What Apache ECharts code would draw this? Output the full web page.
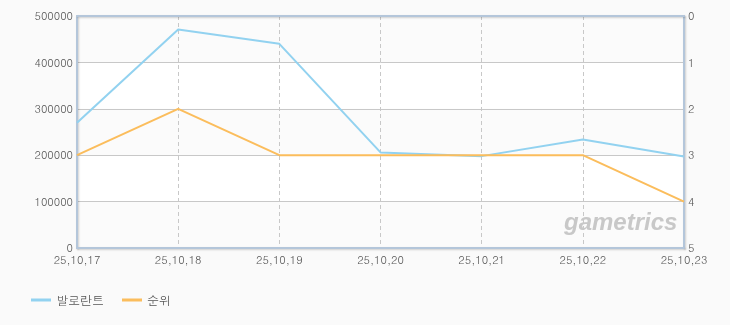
<!DOCTYPE html>
<html><head><meta charset="utf-8">
<script src="https://cdn.jsdelivr.net/npm/echarts@6/dist/echarts.min.js"></script>
<style>html,body{margin:0;padding:0;background:#fafafa;}#c{width:730px;height:325px;}</style>
</head><body><div id="c"></div>
<script>
const categories = ['25,10,17','25,10,18','25,10,19','25,10,20','25,10,21','25,10,22','25,10,23'];
const valorant = [270000, 471000, 440000, 206000, 198000, 234000, 197000];
const rank = [3, 2, 3, 3, 3, 3, 4];
const seriesNames = ['발로란트', '순위'];

const chart = echarts.init(document.getElementById('c'));
const font = 'Dotum, "Noto Sans CJK KR", sans-serif';
const frame = { show: true, lineStyle: { color: '#b4c6da', width: 2, shadowColor: 'rgba(0,0,0,0.18)', shadowBlur: 2, shadowOffsetX: 1, shadowOffsetY: 1 } };
chart.setOption({
  backgroundColor: '#fafafa',
  animation: false,
  grid: { left: 77, right: 46, top: 16, bottom: 77 },
  legend: { left: 26, bottom: 14, itemWidth: 20, itemHeight: 3, itemGap: 18, icon: 'rect',
    textStyle: { color: '#555', fontSize: 12, fontFamily: font },
    data: seriesNames },
  xAxis: [
    { type: 'category', data: categories, boundaryGap: false,
      axisLine: frame, axisTick: { show: false },
      axisLabel: { color: '#555', fontSize: 11, fontFamily: font, margin: 6 },
      splitLine: { show: true, lineStyle: { color: '#c8c8c8', type: [4, 3] } } },
    { type: 'category', data: categories, boundaryGap: false, position: 'top',
      axisLine: frame, axisTick: { show: false }, axisLabel: { show: false }, splitLine: { show: false } }
  ],
  yAxis: [
    { type: 'value', min: 0, max: 500000, interval: 100000, position: 'left',
      axisLine: frame, axisTick: { show: false },
      axisLabel: { color: '#555', fontSize: 11, fontFamily: font, margin: 4, formatter: v => String(v) },
      splitLine: { show: true, lineStyle: { color: '#c8c8c8', width: 1 } },
      splitArea: { show: true, areaStyle: { color: ['#fbfbfb', '#ffffff'] } } },
    { type: 'value', min: 0, max: 5, interval: 1, inverse: true, position: 'right',
      axisLine: frame, axisTick: { show: false },
      axisLabel: { color: '#555', fontSize: 11, fontFamily: font, margin: 4 },
      splitLine: { show: false } }
  ],
  graphic: [{ type: 'text', left: 564, top: 211, z: 1,
    style: { text: 'gametrics', fill: '#c8c8c8', font: 'italic bold 24px "Liberation Sans", Arial, sans-serif' } }],
  series: [
    { name: seriesNames[0], type: 'line', xAxisIndex: 0, yAxisIndex: 0, data: valorant, symbol: 'none', z: 3,
      lineStyle: { color: '#92d2f0', width: 2 }, itemStyle: { color: '#92d2f0' } },
    { name: seriesNames[1], type: 'line', xAxisIndex: 0, yAxisIndex: 1, data: rank, symbol: 'none', z: 3,
      lineStyle: { color: '#fbbd5c', width: 2 }, itemStyle: { color: '#fbbd5c' } }
  ]
});
</script></body></html>
